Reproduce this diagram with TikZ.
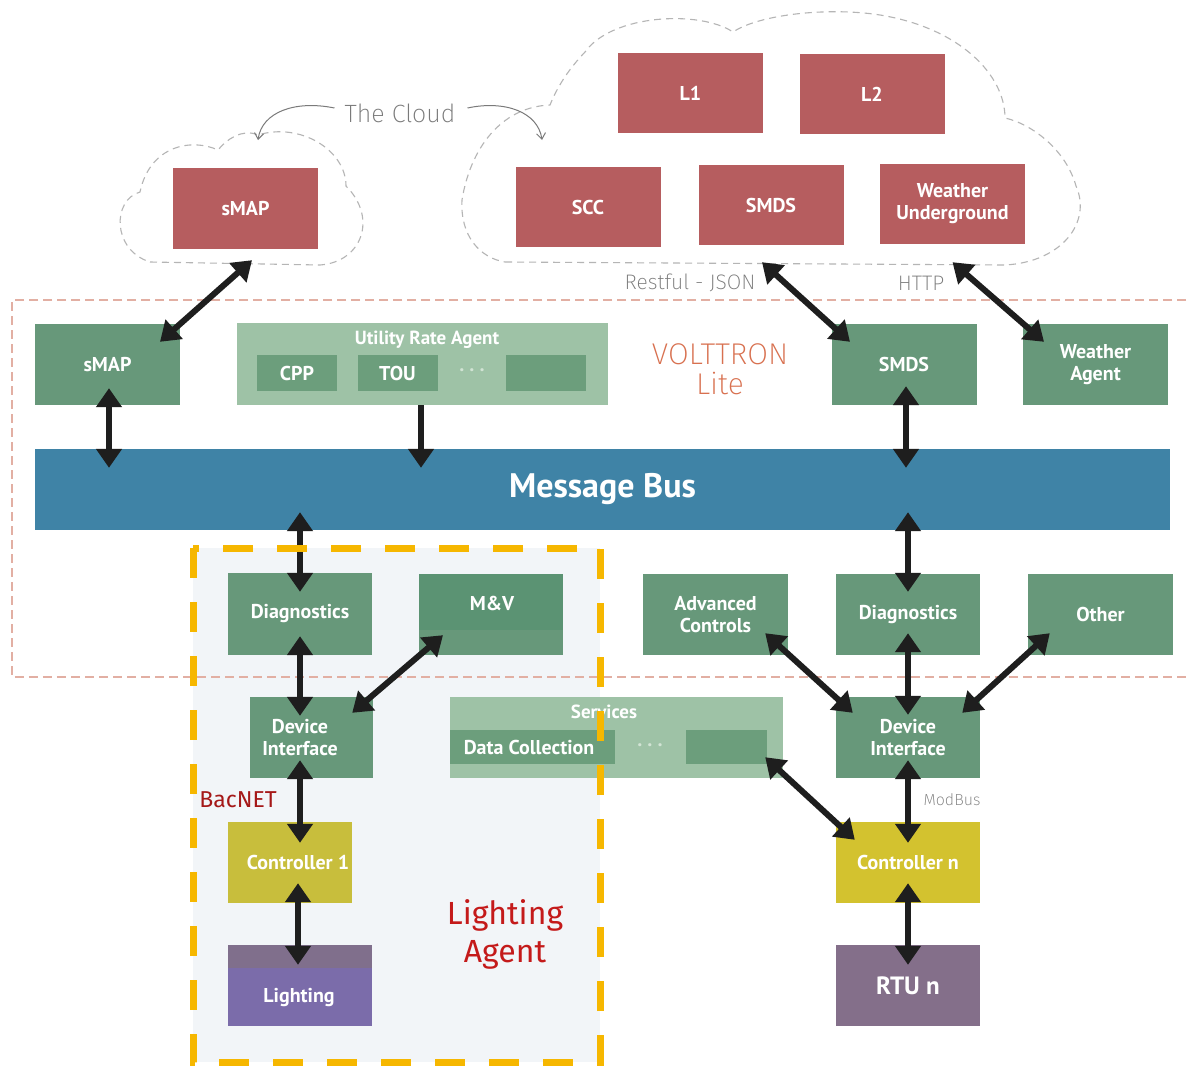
\documentclass[tikz,border=0pt]{standalone}
\usepackage{fontspec}
\setmainfont{PT Sans}
\IfFontExistsTF{Fira Sans ExtraLight}{\newfontfamily\hand{Fira Sans ExtraLight}}{\newfontfamily\hand{Open Sans}}
\newfontfamily\comic{Fira Sans}
\usetikzlibrary{arrows.meta,calc}
\definecolor{cloudred}{HTML}{B65D5F}
\definecolor{vgreen}{HTML}{67987A}
\definecolor{mvtop}{HTML}{5B9373}
\definecolor{lgreen}{HTML}{9EC2A6}
\definecolor{igreen}{HTML}{6C9E7C}
\definecolor{dotgreen}{HTML}{D2E4D5}
\definecolor{busblue}{HTML}{3F83A6}
\definecolor{ctlyel}{HTML}{D3C22F}
\definecolor{ctlyelb}{HTML}{C8BE3C}
\definecolor{rtucol}{HTML}{846F8A}
\definecolor{lightp}{HTML}{7B6CAA}
\definecolor{lightt}{HTML}{806F8C}
\definecolor{goldc}{HTML}{F6B700}
\definecolor{vdash}{HTML}{E2AFA3}
\definecolor{cdash}{HTML}{B5B5B5}
\definecolor{handgray}{HTML}{7A7A7A}
\definecolor{voltred}{HTML}{D8704F}
\definecolor{lagent}{HTML}{C41A1A}
\definecolor{bacred}{HTML}{A51818}
\definecolor{arrc}{HTML}{1E1E1E}
\definecolor{lbg}{HTML}{F2F5F8}
\tikzset{
  boxa/.style={rectangle, inner sep=0pt, text=white, align=center,
    font=\bfseries\fontsize{20}{22}\selectfont},
  cbox/.style={boxa, fill=cloudred, minimum width=145pt, minimum height=80pt},
  gbox/.style={boxa, fill=vgreen, minimum width=145pt, minimum height=81pt},
  ibox/.style={boxa, fill=igreen, minimum height=36pt,
    font=\bfseries\fontsize{20}{22}\selectfont},
  lbl/.style={text=white, align=center, inner sep=0pt,
    font=\bfseries\fontsize{20}{22}\selectfont},
  dots/.style={text=dotgreen, inner sep=0pt, font=\bfseries\fontsize{20}{22}\selectfont},
  handtxt/.style={text=handgray, inner sep=0pt, font=\hand\fontsize{21}{24}\selectfont},
  tipshape/.tip={Triangle[length=19pt,width=25pt]},
  dbl/.style={draw=arrc, line width=6pt, {tipshape}-{tipshape}},
  sgl/.style={draw=arrc, line width=6pt, -{tipshape}},
  clouddash/.style={draw=cdash, line width=1.1pt, dash pattern=on 7pt off 5pt}
}
\begin{document}
\begin{tikzpicture}[x=1pt,y=-1pt]
\useasboundingbox (0,0) rectangle (1189,1068);
\fill[white] (0,0) rectangle (1189,1068);

% Lighting agent background
\fill[lbg] (193,548) rectangle (600,1062);

% VOLTTRON Lite dashed frame
\draw[vdash, line width=1.3pt, dash pattern=on 9pt off 5pt]
  (1200,300) -- (12,300) -- (12,677) -- (1200,677);

% Clouds
\draw[clouddash] (150,262) -- (320,265)
  .. controls (362,262) and (378,218) .. (346,186)
  .. controls (346,150) and (300,122) .. (258,135)
  .. controls (242,128) and (226,140) .. (218,150)
  .. controls (192,138) and (150,145) .. (140,192)
  .. controls (112,200) and (112,250) .. (150,262);
\draw[clouddash] (505,262) -- (1005,265)
  .. controls (1062,262) and (1092,222) .. (1076,186)
  .. controls (1066,150) and (1032,124) .. (1005,118)
  .. controls (1005,75) and (960,28) .. (880,15)
  .. controls (830,7) and (760,14) .. (733,32)
  .. controls (700,10) and (612,14) .. (585,52)
  .. controls (566,72) and (556,90) .. (550,105)
  .. controls (500,107) and (470,150) .. (462,200)
  .. controls (460,236) and (480,258) .. (505,262);

% The Cloud label
\node[text=handgray, inner sep=0pt, font=\hand\fontsize{25}{28}\selectfont] (cloudlbl) at (400,113) {The Cloud};
\coordinate (cloudL) at (258,140);
\coordinate (cloudR) at (542,140);
\draw[handgray, line width=1pt, -{Straight Barb[length=6pt,width=9pt]}]
  ($(cloudlbl.west)+(-10,-5)$) .. controls (295,100) and (262,112) .. (cloudL);
\draw[handgray, line width=1pt, -{Straight Barb[length=6pt,width=9pt]}]
  ($(cloudlbl.east)+(12,-5)$) .. controls (505,100) and (538,112) .. (cloudR);

% Cloud boxes
\node[cbox, minimum height=81pt] (smapc) at (245.5,208.5) {sMAP};
\node[cbox] (l1) at (690.5,93) {L1};
\node[cbox] (l2) at (872,94) {L2};
\node[cbox] (scc) at (588,207) {SCC};
\node[cbox] (smdsc) at (771,205) {SMDS};
\node[cbox] (wu) at (952.5,204) {Weather\\Underground};

\node[handtxt] (restful) at (690,283) {Restful - JSON};
\node[handtxt] (http) at (921,283) {HTTP};

% VOLTTRON Lite row
\node[gbox] (smap) at (107.5,364.5) {sMAP};
\node[boxa, fill=lgreen, minimum width=371pt, minimum height=82pt] (ura) at (422.5,364) {};
\node[lbl, font=\bfseries\fontsize{19}{21}\selectfont] (urat) at (427,340) {Utility Rate Agent};
\node[ibox, minimum width=80pt] (cpp) at (297,373) {CPP};
\node[ibox, minimum width=80pt] (tou) at (397.5,373) {TOU};
\node[dots] (udots) at (472,373) {· · ·};
\node[ibox, minimum width=80pt] (ublank) at (546,373) {};
\node[text=voltred, inner sep=0pt, align=center, font=\hand\fontsize{30}{30}\selectfont] (volt) at (720,369) {VOLTTRON\\Lite};
\node[gbox] (smds) at (904,364.5) {SMDS};
\node[gbox] (wa) at (1095.5,364.5) {Weather\\Agent};

% Message bus
\node[boxa, fill=busblue, minimum width=1135pt, minimum height=81pt,
  font=\bfseries\fontsize{34}{38}\selectfont] (bus) at (602.5,489.5) {Message Bus};

% Agents row
\node[gbox, minimum width=144pt, minimum height=82pt] (diagl) at (300,614) {Diagnostics};
\node[gbox, minimum width=144pt] (mv) at (491,614.5) {};
\fill[mvtop] (mv.north west) rectangle ($(mv.north east)+(0,56)$);
\node[lbl] (mvt) at (492,603) {M\&V};
\node[gbox] (adv) at (715.5,614.5) {Advanced\\Controls};
\node[gbox, minimum width=144pt] (diagr) at (908,614.5) {Diagnostics};
\node[gbox] (other) at (1100.5,614.5) {Other};

% Device interfaces and services
\node[gbox, minimum width=123pt] (dil) at (311.5,737.5) {};
\node[lbl] (dilt) at (300,737.5) {Device\\Interface};
\node[boxa, fill=lgreen, minimum width=333pt, minimum height=81pt] (serv) at (616.5,737.5) {};
\node[lbl, font=\bfseries\fontsize{19}{21}\selectfont] (servt) at (604,712) {Services};
\node[ibox, minimum width=165pt, minimum height=34pt] (dc) at (532.5,747) {};
\node[lbl] (dct) at (529,747) {Data Collection};
\node[dots] (sdots) at (650,748) {· · ·};
\node[ibox, minimum width=81pt, minimum height=34pt] (sblank) at (726.5,747) {};
\node[gbox, minimum width=144pt] (dir) at (908,737.5) {Device\\Interface};

\node[handtxt, font=\hand\fontsize{16}{18}\selectfont] (modbus) at (952,800) {ModBus};
\node[text=bacred, inner sep=0pt, font=\comic\fontsize{23}{25}\selectfont] (bacnet) at (238,800) {BacNET};

% Controllers and devices
\node[boxa, fill=ctlyelb, minimum width=124pt, minimum height=81pt] (ctl1) at (290,862.5) {};
\node[lbl] (ctl1t) at (298,862) {Controller 1};
\node[boxa, fill=ctlyel, minimum width=144pt, minimum height=81pt] (ctln) at (908,862.5) {Controller n};
\node[boxa, fill=lightp, minimum width=144pt, minimum height=81pt] (light) at (300,985.5) {};
\fill[lightt] (light.north west) rectangle ($(light.north east)+(0,23)$);
\node[lbl] (lightt) at (299,997) {Lighting};
\node[boxa, fill=rtucol, minimum width=144pt, minimum height=81pt,
  font=\bfseries\fontsize{25}{28}\selectfont] (rtu) at (908,985.5) {RTU n};

\node[text=lagent, inner sep=0pt, align=center, font=\comic\fontsize{32}{38}\selectfont] (lagentt) at (505,934) {Lighting\\Agent};

% Connectors
\draw[dbl] ($(smapc.south)+(6.5,11)$) -- ($(smap.north)+(52.5,18)$);
\draw[dbl] ($(smdsc.south)+(-9,17)$) -- ($(smds.north)+(-54,18)$);
\draw[dbl] ($(wu.south)+(0,18)$) -- ($(wa.north)+(-51.5,18)$);
\draw[dbl] ($(smap.south)+(1.5,-17)$) -- ($(smap.south |- bus.north)+(1.5,19)$);
\draw[sgl] ($(ura.south)+(-1.5,0)$) -- ($(ura.south |- bus.north)+(-1.5,19)$);
\draw[dbl] ($(smds.south)+(2,-19)$) -- ($(smds.south |- bus.north)+(2,19)$);
\draw[dbl] ($(diagl.north |- bus.south)+(0,-18)$) -- ($(diagl.north)+(0,19)$);
\draw[dbl] ($(diagr.north |- bus.south)+(0,-18)$) -- ($(diagr.north)+(0,18)$);
\draw[dbl] ($(diagl.south)+(0,-19)$) -- ($(diagl.south |- dil.north)+(0,19)$);
\draw[dbl] ($(mv.south)+(-48,-20)$) -- ($(dil.north east)+(-21,16)$);
\draw[dbl] ($(adv.south east)+(-23,-22)$) -- ($(dir.north west)+(17,16)$);
\draw[dbl] ($(diagr.south)+(0,-22)$) -- ($(dir.north)+(0,18)$);
\draw[dbl] ($(other.south west)+(22,-22)$) -- ($(dir.north east)+(-18,16)$);
\draw[dbl] ($(diagl.south |- dil.south)+(0,-18)$) -- ($(diagl.south |- ctl1.north)+(0,21)$);
\draw[dbl] ($(dir.south)+(0,-18)$) -- ($(ctln.north)+(0,21)$);
\draw[dbl] ($(sblank.south east)+(-2,-7)$) -- ($(ctln.north west)+(19,18)$);
\draw[dbl] ($(ctl1.south)+(8,-20)$) -- ($(ctl1.south |- light.north)+(8,20)$);
\draw[dbl] ($(ctln.south)+(0,-20)$) -- ($(rtu.north)+(0,20)$);

% Lighting agent dashed frame
\draw[goldc, line width=7pt, dash pattern=on 30pt off 24pt] (193,548) rectangle (600,1062);
\end{tikzpicture}
\end{document}
